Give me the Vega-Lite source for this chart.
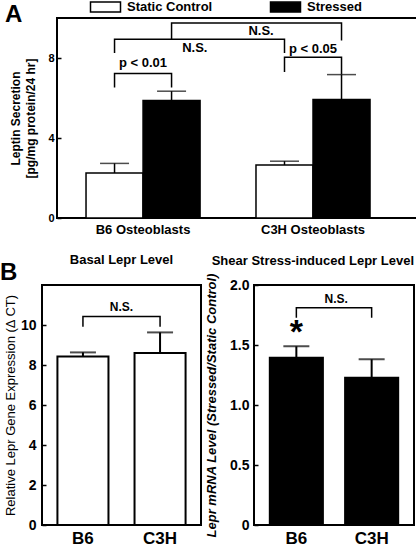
{
  "$schema": "https://vega.github.io/schema/vega-lite/v6.json",
  "padding": {"left": 0, "top": 0, "right": 0, "bottom": 0},
  "background": "white",
  "config": {
    "font": "Liberation Sans",
    "view": {"stroke": "black", "strokeWidth": 2},
    "axis": {"grid": false, "domain": false, "labelColor": "black", "labelFontWeight": "bold", "tickColor": "black", "titleColor": "black", "labelOverlap": false},
    "axisQuantitative": {"labelOverlap": false},
    "axisY": {"tickSize": -4, "tickWidth": 1.5, "labelOverlap": false},
    "axisX": {"ticks": false}
  },
  "spacing": 16,
  "vconcat": [
    {
      "spacing": 3,
      "hconcat": [
        {
          "width": 1, "height": 1,
          "view": {"stroke": null},
          "data": {"values": []},
          "mark": "point",
          "encoding": {}
        },
        {
          "width": 361, "height": 200,
          "title": {"text": "A", "anchor": "start", "frame": "group", "fontSize": 24, "fontWeight": "bold", "color": "black", "dx": -52, "dy": 28, "offset": 0, "baseline": "alphabetic"},
          "layer": [
            {
              "data": {"values": [
                {"group": "B6 Osteoblasts", "cond": "Static Control", "mean": 2.25, "upper": 2.73},
                {"group": "B6 Osteoblasts", "cond": "Stressed", "mean": 5.88, "upper": 6.34},
                {"group": "C3H Osteoblasts", "cond": "Static Control", "mean": 2.65, "upper": 2.84},
                {"group": "C3H Osteoblasts", "cond": "Stressed", "mean": 5.93, "upper": 7.17}
              ]},
              "layer": [
                {
                  "mark": {"type": "bar", "stroke": "black", "strokeWidth": 1.5},
                  "encoding": {
                    "x": {"field": "group", "type": "nominal", "title": null,
                      "scale": {"type": "band", "paddingInner": 0.329, "paddingOuter": 0.2265, "align": 0.377},
                      "axis": {"labelAngle": 0, "labelFontSize": 13, "labelPadding": 5}},
                    "xOffset": {"field": "cond", "type": "nominal", "sort": ["Static Control", "Stressed"]},
                    "y": {"field": "mean", "type": "quantitative",
                      "scale": {"domain": [0, 10], "nice": false},
                      "axis": {"values": [0, 2, 4, 6, 8, 10], "labelOverlap": false, "labelBound": false, "labelFontSize": 11, "labelPadding": 7,
                        "title": ["Leptin Secretion", "[pg/mg protein/24 hr]"], "titleFontSize": 12, "titleFontWeight": "bold", "titleLineHeight": 15, "titlePadding": 10}},
                    "fill": {"field": "cond", "type": "nominal",
                      "scale": {"domain": ["Static Control", "Stressed"], "range": ["white", "black"]},
                      "legend": {"orient": "none", "legendX": 99, "legendY": -17.7, "direction": "horizontal", "title": null,
                        "symbolType": "M-3,-1H3V1H-3Z", "symbolSize": 100, "symbolStrokeColor": "black", "symbolStrokeWidth": 1.5,
                        "labelFontSize": 13, "labelFontWeight": "bold", "labelColor": "black", "columnPadding": 54, "labelOffset": 15}}
                  }
                },
                {
                  "mark": {"type": "rule", "color": "black", "strokeWidth": 1.5},
                  "encoding": {
                    "x": {"field": "group", "type": "nominal"},
                    "xOffset": {"field": "cond", "type": "nominal"},
                    "y": {"field": "mean", "type": "quantitative"},
                    "y2": {"field": "upper"}
                  }
                },
                {
                  "mark": {"type": "tick", "color": "black", "thickness": 1.5, "size": 29, "orient": "horizontal"},
                  "encoding": {
                    "x": {"field": "group", "type": "nominal"},
                    "xOffset": {"field": "cond", "type": "nominal"},
                    "y": {"field": "upper", "type": "quantitative"}
                  }
                }
              ]
            },
            {
              "data": {"values": [
                {"bracket": "b1", "step": 1, "group": "B6 Osteoblasts", "cond": "Static Control", "level": 6.52},
                {"bracket": "b1", "step": 2, "group": "B6 Osteoblasts", "cond": "Static Control", "level": 7.22},
                {"bracket": "b1", "step": 3, "group": "B6 Osteoblasts", "cond": "Stressed", "level": 7.22},
                {"bracket": "b1", "step": 4, "group": "B6 Osteoblasts", "cond": "Stressed", "level": 6.52},
                {"bracket": "b2", "step": 1, "group": "C3H Osteoblasts", "cond": "Static Control", "level": 7.30},
                {"bracket": "b2", "step": 2, "group": "C3H Osteoblasts", "cond": "Static Control", "level": 8.04},
                {"bracket": "b2", "step": 3, "group": "C3H Osteoblasts", "cond": "Stressed", "level": 8.04},
                {"bracket": "b2", "step": 4, "group": "C3H Osteoblasts", "cond": "Stressed", "level": 7.17},
                {"bracket": "b3", "step": 1, "group": "B6 Osteoblasts", "cond": "Static Control", "level": 8.25},
                {"bracket": "b3", "step": 2, "group": "B6 Osteoblasts", "cond": "Static Control", "level": 8.94},
                {"bracket": "b3", "step": 3, "group": "C3H Osteoblasts", "cond": "Static Control", "level": 8.94},
                {"bracket": "b3", "step": 4, "group": "C3H Osteoblasts", "cond": "Static Control", "level": 8.25},
                {"bracket": "b4", "step": 1, "group": "B6 Osteoblasts", "cond": "Stressed", "level": 8.94},
                {"bracket": "b4", "step": 2, "group": "B6 Osteoblasts", "cond": "Stressed", "level": 9.75},
                {"bracket": "b4", "step": 3, "group": "C3H Osteoblasts", "cond": "Stressed", "level": 9.75},
                {"bracket": "b4", "step": 4, "group": "C3H Osteoblasts", "cond": "Stressed", "level": 8.87}
              ]},
              "mark": {"type": "line", "color": "black", "strokeWidth": 1.5},
              "encoding": {
                "x": {"field": "group", "type": "nominal"},
                "xOffset": {"field": "cond", "type": "nominal"},
                "y": {"field": "level", "type": "quantitative"},
                "detail": {"field": "bracket"},
                "order": {"field": "step"}
              }
            },
            {
              "data": {"values": [
                {"group": "B6 Osteoblasts", "label": "p < 0.01", "level": 7.75},
                {"group": "C3H Osteoblasts", "label": "p < 0.05", "level": 8.45}
              ]},
              "mark": {"type": "text", "fontSize": 13, "fontWeight": "bold", "color": "black", "baseline": "middle"},
              "encoding": {
                "x": {"field": "group", "type": "nominal"},
                "y": {"field": "level", "type": "quantitative"},
                "text": {"field": "label"}
              }
            },
            {
              "data": {"values": [{"group": "B6 Osteoblasts", "label": "N.S.", "level": 8.5}]},
              "mark": {"type": "text", "fontSize": 13, "fontWeight": "bold", "color": "black", "baseline": "middle"},
              "encoding": {
                "x": {"field": "group", "type": "nominal", "bandPosition": 0.954},
                "y": {"field": "level", "type": "quantitative"},
                "text": {"field": "label"}
              }
            },
            {
              "data": {"values": [{"group": "B6 Osteoblasts", "label": "N.S.", "level": 9.34}]},
              "mark": {"type": "text", "fontSize": 13, "fontWeight": "bold", "color": "black", "baseline": "middle"},
              "encoding": {
                "x": {"field": "group", "type": "nominal", "bandPosition": 1.535},
                "y": {"field": "level", "type": "quantitative"},
                "text": {"field": "label"}
              }
            }
          ]
        }
      ]
    },
    {
      "spacing": 2,
      "title": {"text": "B", "anchor": "start", "fontSize": 24, "fontWeight": "bold", "color": "black", "offset": 0, "dy": 51, "baseline": "alphabetic"},
      "hconcat": [
        {
          "width": 1, "height": 1,
          "view": {"stroke": null},
          "data": {"values": []},
          "mark": "point",
          "encoding": {}
        },
        {
          "width": 159, "height": 240,
          "title": {"text": "Basal Lepr Level", "fontSize": 13, "fontWeight": "bold", "color": "black", "anchor": "middle", "offset": 18},
          "layer": [
            {
              "data": {"values": [
                {"strain": "B6", "value": 8.43, "upper": 8.63},
                {"strain": "C3H", "value": 8.60, "upper": 9.63}
              ]},
              "layer": [
                {
                  "mark": {"type": "bar", "fill": "white", "stroke": "black", "strokeWidth": 2},
                  "encoding": {
                    "x": {"field": "strain", "type": "nominal", "title": null,
                      "scale": {"type": "band", "paddingInner": 0.338, "paddingOuter": 0.2},
                      "axis": {"labelAngle": 0, "labelFontSize": 17, "labelPadding": 5}},
                    "y": {"field": "value", "type": "quantitative",
                      "scale": {"domain": [0, 12], "nice": false},
                      "axis": {"values": [0, 2, 4, 6, 8, 10], "labelOverlap": false, "labelFontSize": 14, "labelPadding": 10,
                        "title": "Relative Lepr Gene Expression (Δ CT)", "titleFontSize": 13, "titleFontWeight": "normal", "titlePadding": 3}}
                  }
                },
                {
                  "mark": {"type": "rule", "color": "black", "strokeWidth": 2},
                  "encoding": {
                    "x": {"field": "strain", "type": "nominal"},
                    "y": {"field": "value", "type": "quantitative"},
                    "y2": {"field": "upper"}
                  }
                },
                {
                  "mark": {"type": "tick", "color": "black", "thickness": 2, "size": 26, "orient": "horizontal"},
                  "encoding": {
                    "x": {"field": "strain", "type": "nominal"},
                    "y": {"field": "upper", "type": "quantitative"}
                  }
                }
              ]
            },
            {
              "data": {"values": [
                {"step": 1, "strain": "B6", "level": 9.91},
                {"step": 2, "strain": "B6", "level": 10.42},
                {"step": 3, "strain": "C3H", "level": 10.42},
                {"step": 4, "strain": "C3H", "level": 9.91}
              ]},
              "mark": {"type": "line", "color": "black", "strokeWidth": 1.5},
              "encoding": {
                "x": {"field": "strain", "type": "nominal"},
                "y": {"field": "level", "type": "quantitative"},
                "order": {"field": "step"}
              }
            },
            {
              "data": {"values": [{"strain": "B6", "label": "N.S.", "level": 10.88}]},
              "mark": {"type": "text", "fontSize": 12, "fontWeight": "bold", "color": "black", "baseline": "middle"},
              "encoding": {
                "x": {"field": "strain", "type": "nominal", "bandPosition": 1.255},
                "y": {"field": "level", "type": "quantitative"},
                "text": {"field": "label"}
              }
            }
          ]
        },
        {
          "width": 160, "height": 240,
          "title": {"text": "Shear Stress-induced Lepr Level", "fontSize": 13, "fontWeight": "bold", "color": "black", "anchor": "end", "offset": 14, "dy": 9},
          "layer": [
            {
              "mark": {"type": "rule", "color": "black", "strokeWidth": 1},
              "encoding": {"y": {"datum": 1, "type": "quantitative"}}
            },
            {
              "data": {"values": [
                {"strain": "B6", "ratio": 1.394, "upper": 1.489},
                {"strain": "C3H", "ratio": 1.228, "upper": 1.381}
              ]},
              "layer": [
                {
                  "mark": {"type": "bar", "fill": "black", "stroke": "black", "strokeWidth": 2},
                  "encoding": {
                    "x": {"field": "strain", "type": "nominal", "title": null,
                      "scale": {"type": "band", "paddingInner": 0.295, "paddingOuter": 0.21},
                      "axis": {"labelAngle": 0, "labelFontSize": 17, "labelPadding": 5}},
                    "y": {"field": "ratio", "type": "quantitative",
                      "scale": {"domain": [0, 2], "nice": false},
                      "axis": {"values": [0, 0.5, 1, 1.5, 2], "labelOverlap": false, "labelExpr": "datum.value == 0 ? '0' : format(datum.value, '.1f')", "labelFontSize": 14, "labelPadding": 9,
                        "title": "Lepr mRNA Level (Stressed/Static Control)", "titleFontSize": 13, "titleFontWeight": "bold", "titleFontStyle": "italic", "titlePadding": 11}}
                  }
                },
                {
                  "mark": {"type": "rule", "color": "black", "strokeWidth": 2},
                  "encoding": {
                    "x": {"field": "strain", "type": "nominal"},
                    "y": {"field": "ratio", "type": "quantitative"},
                    "y2": {"field": "upper"}
                  }
                },
                {
                  "mark": {"type": "tick", "color": "black", "thickness": 2, "size": 26, "orient": "horizontal"},
                  "encoding": {
                    "x": {"field": "strain", "type": "nominal"},
                    "y": {"field": "upper", "type": "quantitative"}
                  }
                }
              ]
            },
            {
              "data": {"values": [
                {"step": 1, "strain": "B6", "level": 1.728},
                {"step": 2, "strain": "B6", "level": 1.81},
                {"step": 3, "strain": "C3H", "level": 1.81},
                {"step": 4, "strain": "C3H", "level": 1.728}
              ]},
              "mark": {"type": "line", "color": "black", "strokeWidth": 1.5},
              "encoding": {
                "x": {"field": "strain", "type": "nominal"},
                "y": {"field": "level", "type": "quantitative"},
                "order": {"field": "step"}
              }
            },
            {
              "data": {"values": [{"strain": "B6", "label": "*", "level": 1.633}]},
              "mark": {"type": "text", "fontSize": 34, "fontWeight": "bold", "color": "black", "baseline": "middle", "dy": 4},
              "encoding": {
                "x": {"field": "strain", "type": "nominal"},
                "y": {"field": "level", "type": "quantitative"},
                "text": {"field": "label"}
              }
            },
            {
              "data": {"values": [{"strain": "B6", "label": "N.S.", "level": 1.88}]},
              "mark": {"type": "text", "fontSize": 12, "fontWeight": "bold", "color": "black", "baseline": "middle"},
              "encoding": {
                "x": {"field": "strain", "type": "nominal", "bandPosition": 1.25},
                "y": {"field": "level", "type": "quantitative"},
                "text": {"field": "label"}
              }
            }
          ]
        }
      ]
    }
  ]
}
